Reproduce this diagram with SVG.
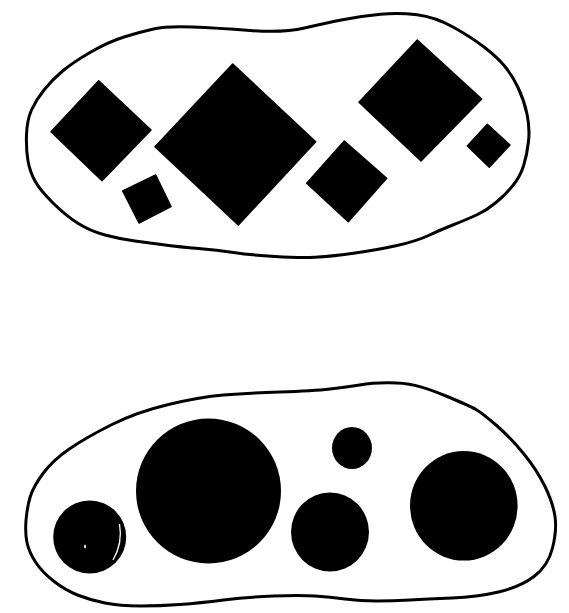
<svg xmlns="http://www.w3.org/2000/svg" width="569" height="613" viewBox="0 0 569 613">
<style>
.outline{fill:none;stroke:#000;stroke-width:3;stroke-linejoin:round}
.shape{fill:#000;stroke:#000;stroke-width:1.5;stroke-linejoin:round}
</style>
<rect width="569" height="613" fill="#fff"/>
<g id="top-blob">
<path class="outline" d="M28,161 Q26,150 26.5,135 Q27,120 31.5,110 Q36,100 44,90 Q52,80 62,71.5 Q72,63 90,52.5 Q108,42 124,37 Q140,32 153.5,29 Q167,26 192,27 Q217,28 250,30.5 Q283,33 304.5,28 Q326,23 344,19.5 Q362,16 380.5,14.25 Q399,12.5 417,14.75 Q435,17 453,27 Q471,37 484,47 Q497,57 504.5,66 Q512,75 518,87.5 Q524,100 527,114 Q530,128 528.5,141.5 Q527,155 523.5,166 Q520,177 512.5,186 Q505,195 496,202.5 Q487,210 477.5,214.5 Q468,219 454,224.5 Q440,230 428.5,235.5 Q417,241 397,245.5 Q377,250 353.5,253.25 Q330,256.5 315,257.25 Q300,258 275,256.5 Q250,255 233.5,252.5 Q217,250 198.5,248.5 Q180,247 165,245 Q150,243 135,241 Q120,239 105,235 Q90,231 77.5,223 Q65,215 52.5,202.5 Q40,190 35,181 Q30,172 28,161 Z"/>
</g>
<g id="diamond-1"><polygon class="shape" points="98.7,80.7 151,130 102,180.7 51,131.7"/></g>
<g id="diamond-2"><polygon class="shape" points="122.7,191 155.7,175 171,206.7 139,223"/></g>
<g id="diamond-3"><polygon class="shape" points="232.7,64 315.7,141.7 238.3,225 155,146.7"/></g>
<g id="diamond-4"><polygon class="shape" points="344.3,141 386.7,178.3 348.3,221.7 306.7,183.3"/></g>
<g id="diamond-5"><polygon class="shape" points="417.3,40 481.7,99 421,161 359,102.3"/></g>
<g id="diamond-6"><polygon class="shape" points="487.3,124.3 510,145 489.3,167.3 467.3,146"/></g>
<g id="bottom-blob">
<path class="outline" d="M27,542.5 Q25,533 26,520.5 Q27,508 30,497.5 Q33,487 43,473.5 Q53,460 70,448.5 Q87,437 112,424.5 Q137,412 168.5,404.5 Q200,397 223.5,395 Q247,393 280,392 Q313,391 330,389 Q347,387 359.5,385 Q372,383 387.5,382.85 Q403,382.7 415,385.35 Q427,388 448.5,397 Q470,406 476,409.5 Q482,413 496,425 Q510,437 523.5,453.5 Q537,470 545,486.5 Q553,503 555,516.5 Q557,530 552.5,548 Q548,566 534,576.5 Q520,587 498.5,592 Q477,597 452,598 Q427,599 410,600 Q393,601 376.5,601 Q360,601 345,599 Q330,597 315,596 Q300,595 273.5,596 Q247,597 223.5,600 Q200,603 180,604.5 Q160,606 140,606 Q120,606 105,603 Q90,600 77.5,595 Q65,590 53.5,581 Q42,572 35.5,562 Q29,552 27,542.5 Z"/>
</g>
<g id="circle-1">
<circle cx="89.7" cy="537" r="36.5" fill="#000"/>
<path d="M119.5,524 Q123,543 113,560" fill="none" stroke="#fff" stroke-width="1.3"/>
<ellipse cx="85" cy="546.5" rx="0.9" ry="2" fill="#fff"/>
</g>
<g id="circle-2"><circle cx="208.5" cy="491" r="72.5" fill="#000"/></g>
<g id="circle-3"><ellipse cx="352" cy="448" rx="20" ry="21" fill="#000"/></g>
<g id="circle-4"><ellipse cx="330" cy="532" rx="39" ry="39.5" fill="#000"/></g>
<g id="circle-5"><ellipse cx="463.8" cy="505.8" rx="53.8" ry="54.8" fill="#000"/></g>
</svg>
